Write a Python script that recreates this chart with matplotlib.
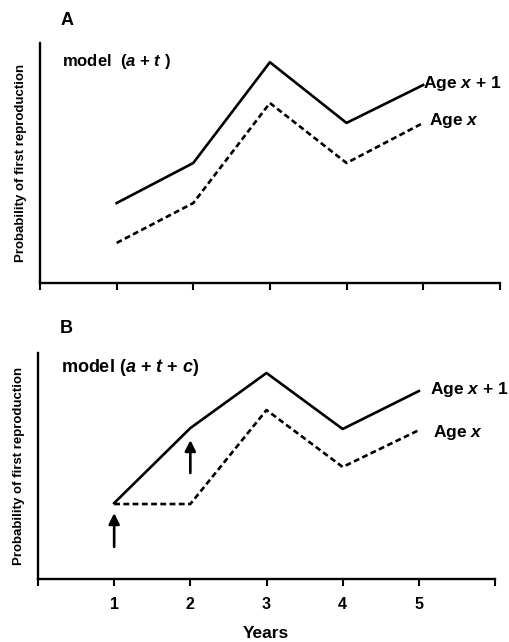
import matplotlib
matplotlib.use("Agg")
import matplotlib.pyplot as plt

# dati (scala arbitraria 0-1)
anni = [1, 2, 3, 4, 5]
a_eta_x1 = [0.333, 0.50, 0.92, 0.667, 0.825]
a_eta_x = [0.167, 0.333, 0.75, 0.50, 0.667]
b_eta_x1 = [0.336, 0.668, 0.912, 0.664, 0.832]
b_eta_x = [0.332, 0.332, 0.748, 0.496, 0.659]
# frecce nel pannello B: (anno, inizio, punta)
frecce_b = [(1, 0.142, 0.292), (2, 0.469, 0.615)]
tick_labels = ["", "1", "2", "3", "4", "5", ""]

plt.rcParams['font.family'] = ['Liberation Sans', 'DejaVu Sans']
plt.rcParams['font.weight'] = 'bold'
plt.rcParams['mathtext.fontset'] = 'custom'
plt.rcParams['mathtext.rm'] = 'Liberation Sans:bold'
plt.rcParams['mathtext.it'] = 'Liberation Sans:italic:bold'

fig = plt.figure(figsize=(5.1, 6.42), dpi=100)
ax_a = fig.add_axes([0.0784, 0.5592, 0.9016, 0.3738])
ax_b = fig.add_axes([0.0745, 0.0981, 0.8961, 0.3519])


def stile(ax, labels):
    ax.set_xlim(0, 6)
    ax.set_ylim(0, 1)
    for s in ['top', 'right']:
        ax.spines[s].set_visible(False)
    for s in ['left', 'bottom']:
        ax.spines[s].set_linewidth(1.7)
    ax.set_xticks(range(7))
    ax.set_xticklabels(labels, fontsize=11.5, fontweight='bold')
    ax.tick_params(axis='x', direction='out', length=5, width=1.5, pad=8)
    ax.set_yticks([])
    ax.set_ylabel('Probability of first reproduction', fontsize=9.5,
                  fontweight='bold', labelpad=9)


# pannello A
stile(ax_a, [""] * 7)
ax_a.plot(anni, a_eta_x1, color='black', lw=1.9)
ax_a.plot(anni, a_eta_x, color='black', lw=1.9, linestyle=(0, (2.2, 1.3)))
ax_a.text(0.048, 0.925, r'model  ($a$ + $t$ )', transform=ax_a.transAxes,
          fontsize=12, va='center')
ax_a.annotate(r'Age $x$ + 1', (anni[-1], a_eta_x1[-1]), xytext=(0, 1),
              textcoords='offset points', fontsize=12.5, va='center', ha='left')
ax_a.annotate(r'Age $x$', (anni[-1], a_eta_x[-1]), xytext=(4, 2),
              textcoords='offset points', fontsize=12.5, va='center', ha='left')
fig.text(0.118, 0.968, 'A', fontsize=13, fontweight='bold', va='center')

# pannello B
stile(ax_b, tick_labels)
ax_b.plot(anni, b_eta_x1, color='black', lw=1.9)
ax_b.plot(anni, b_eta_x, color='black', lw=1.9, linestyle=(0, (2.2, 1.3)))
for anno, y0, y1 in frecce_b:
    ax_b.annotate('', xy=(anno, y1), xytext=(anno, y0),
                  arrowprops=dict(arrowstyle='-|>', color='black', lw=1.9,
                                  mutation_scale=16, shrinkA=0, shrinkB=0))
ax_b.text(0.05, 0.935, r'model ($a$ + $t$ + $c$)', transform=ax_b.transAxes,
          fontsize=13, va='center')
ax_b.annotate(r'Age $x$ + 1', (anni[-1], b_eta_x1[-1]), xytext=(8, 1),
              textcoords='offset points', fontsize=12.5, va='center', ha='left')
ax_b.annotate(r'Age $x$', (anni[-1], b_eta_x[-1]), xytext=(10, -2),
              textcoords='offset points', fontsize=12.5, va='center', ha='left')
fig.text(0.522, 1 - 633 / 642, 'Years', fontsize=12.5, fontweight='bold',
         ha='center', va='center')
fig.text(0.118, 0.489, 'B', fontsize=13, fontweight='bold', va='center')

plt.savefig('out.png', dpi=100)
